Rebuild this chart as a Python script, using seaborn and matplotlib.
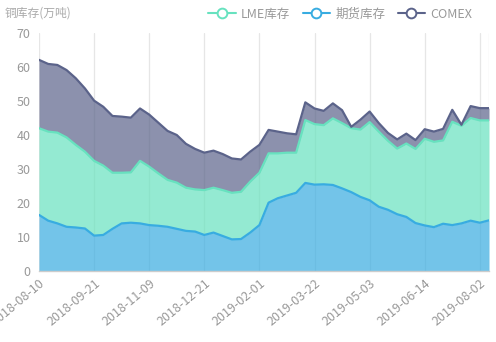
import numpy as np
import pandas as pd
import matplotlib
matplotlib.use("Agg")
import matplotlib.pyplot as plt
from matplotlib.lines import Line2D
import seaborn as sns

# Weekly copper inventories (10k tonnes)
dates = [
    "2018-08-10", "2018-08-17", "2018-08-24", "2018-08-31", "2018-09-07", "2018-09-14",
    "2018-09-21", "2018-09-28", "2018-10-12", "2018-10-19", "2018-10-26", "2018-11-02",
    "2018-11-09", "2018-11-16", "2018-11-23", "2018-11-30", "2018-12-07", "2018-12-14",
    "2018-12-21", "2018-12-28", "2019-01-04", "2019-01-11", "2019-01-18", "2019-01-25",
    "2019-02-01", "2019-02-15", "2019-02-22", "2019-03-01", "2019-03-08", "2019-03-15",
    "2019-03-22", "2019-03-29", "2019-04-05", "2019-04-12", "2019-04-19", "2019-04-26",
    "2019-05-03", "2019-05-10", "2019-05-17", "2019-05-24", "2019-05-31", "2019-06-06",
    "2019-06-14", "2019-06-21", "2019-06-28", "2019-07-12", "2019-07-19", "2019-07-26",
    "2019-08-02", "2019-08-09",
]
futures = [16.5, 14.8, 14.0, 13.0, 12.8, 12.5, 10.4, 10.6, 12.4, 14.0, 14.2, 14.0, 13.5,
           13.3, 13.0, 12.4, 11.8, 11.6, 10.6, 11.3, 10.3, 9.3, 9.4, 11.3, 13.5, 20.1,
           21.4, 22.2, 23.0, 25.9, 25.4, 25.5, 25.3, 24.3, 23.2, 21.8, 20.8, 18.9, 18.0,
           16.7, 15.9, 14.1, 13.4, 12.9, 13.9, 13.5, 14.0, 14.8, 14.2, 14.9]
lme = [25.5, 26.2, 26.7, 26.3, 24.3, 22.6, 22.0, 20.4, 16.5, 14.9, 14.8, 18.4, 17.2,
       15.4, 13.8, 13.6, 12.7, 12.4, 13.2, 13.2, 13.5, 13.7, 13.9, 15.0, 15.4, 14.5,
       13.2, 12.6, 11.8, 18.5, 17.8, 17.4, 19.6, 19.2, 18.8, 19.8, 23.0, 22.1, 20.3,
       19.3, 21.6, 21.8, 25.5, 25.1, 24.5, 30.4, 28.7, 30.2, 30.1, 29.4]
comex = [20.1, 19.9, 19.9, 19.8, 19.6, 18.6, 17.7, 17.3, 16.7, 16.5, 16.1, 15.4, 15.3,
         14.9, 14.4, 14.0, 12.9, 11.9, 11.0, 10.9, 10.6, 10.1, 9.5, 8.8, 8.2, 6.9,
         6.4, 5.7, 5.4, 5.2, 4.6, 4.2, 4.4, 3.8, 0.4, 2.9, 3.1, 2.5, 2.3,
         2.7, 2.9, 2.6, 2.8, 3.0, 3.4, 3.5, 0.3, 3.5, 3.6, 3.6]

series_names = ["LME库存", "期货库存", "COMEX"]
colors = {"LME库存": "#67e2bf", "期货库存": "#38ace1", "COMEX": "#5b638a"}

sns.set_style("white")
plt.rcParams["font.family"] = ["Noto Sans CJK SC", "DejaVu Sans"]

df = pd.DataFrame({"date": dates, "期货库存": futures, "LME库存": lme, "COMEX": comex})
df["idx"] = np.arange(len(df))
df["lvl1"] = df["期货库存"]
df["lvl2"] = df["lvl1"] + df["LME库存"]
df["lvl3"] = df["lvl2"] + df["COMEX"]

fig = plt.figure(figsize=(4.96, 3.42), dpi=100)
ax = fig.add_axes([39 / 496, 1 - 271 / 342, 450 / 496, 238 / 342])

# stacked areas: futures at the bottom, then LME, then COMEX
layers = [("期货库存", None, "lvl1"), ("LME库存", "lvl1", "lvl2"), ("COMEX", "lvl2", "lvl3")]
for name, lo, hi in layers:
    base = 0 if lo is None else df[lo]
    ax.fill_between(df["idx"], base, df[hi], color=colors[name], alpha=0.7, lw=0, zorder=2)
    sns.lineplot(data=df, x="idx", y=hi, ax=ax, color=colors[name], lw=1.6, zorder=3)

tick_pos = list(range(0, len(df), 6))
for t in tick_pos + [len(df) - 1]:
    ax.axvline(t, color="#e6e6e6", lw=0.9, zorder=1)

ax.set_xlim(0, len(df) - 1)
ax.set_ylim(0, 70)
ax.set_yticks(range(0, 71, 10))
ax.set_xticks(tick_pos)
ax.set_xticklabels([dates[i] for i in tick_pos], rotation=40, ha="right",
                   rotation_mode="anchor")
ax.tick_params(axis="both", colors="#999999", labelsize=9, length=0, pad=6)
ax.tick_params(axis="x", pad=4)
ax.set_xlabel("")
ax.set_ylabel("")
for s in ["top", "right", "left"]:
    ax.spines[s].set_visible(False)
ax.spines["bottom"].set_color("#cccccc")
ax.spines["bottom"].set_linewidth(1.0)

fig.text(5 / 496, 1 - 13 / 342, "铜库存(万吨)", color="#aaaaaa", fontsize=8.5, va="center")

handles = [Line2D([], [], color=colors[n], lw=1.5, marker="o", markersize=7,
                  markerfacecolor="white", markeredgewidth=1.4) for n in series_names]
leg = fig.legend(handles, series_names, ncol=3, loc="center right",
                 bbox_to_anchor=(472 / 496, 1 - 14 / 342), frameon=False,
                 fontsize=9, handlelength=2.2, handletextpad=0.4, columnspacing=1.0,
                 borderaxespad=0, borderpad=0)
for txt in leg.get_texts():
    txt.set_color("#999999")

fig.savefig("out.png", dpi=100)
